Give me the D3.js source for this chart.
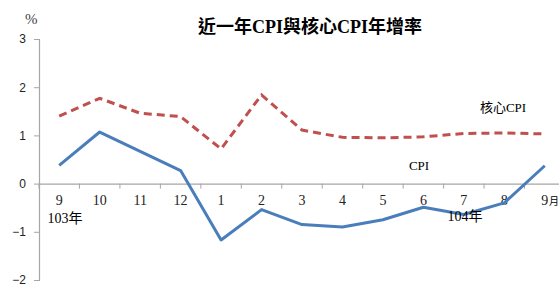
<!DOCTYPE html>
<html>
<head>
<meta charset="utf-8">
<script src="https://cdn.jsdelivr.net/npm/d3@7"></script>
<style>
  body { margin: 0; background: #fff; }
  svg { display: block; }
  .serif { font-family: "Liberation Serif", "Noto Sans CJK TC", serif; }
</style>
</head>
<body>
<svg id="chart"></svg>
<script>
// months along the x axis (103/9 .. 104/9)
let months = ['9', '10', '11', '12', '1', '2', '3', '4', '5', '6', '7', '8', '9'];
let cpi  = [0.38, 1.07, 0.67, 0.27, -1.17, -0.54, -0.85, -0.90, -0.75, -0.49, -0.64, -0.40, 0.37];
let core = [1.40, 1.77, 1.46, 1.39, 0.72, 1.84, 1.11, 0.96, 0.95, 0.97, 1.04, 1.05, 1.03];
let yTicks = [-2, -1, 0, 1, 2, 3];

let graphicopt = {
    width: 559,
    height: 287,
    margin: {top: 39, left: 39, right: -6, bottom: 6},
    widthG: function(){return this.width-this.margin.left-this.margin.right},
    heightG: function(){return this.height-this.margin.top-this.margin.bottom},
};

let svg = d3.select('#chart')
    .attr('width', graphicopt.width)
    .attr('height', graphicopt.height);

let g = svg.append('g')
    .attr('transform', `translate(${graphicopt.margin.left},${graphicopt.margin.top})`);

let keys = months.map((d, i) => i);
let x = d3.scaleBand().domain(keys).range([0, graphicopt.widthG()]);
let y = d3.scaleLinear().domain([-2, 3]).range([241, 0]);
let cx = i => x(i) + x.bandwidth() / 2;

// y axis
let yAxis = d3.axisLeft(y).tickValues(yTicks).tickFormat(d3.format('d')).tickSize(5).tickPadding(8);
let yg = g.append('g').call(yAxis);
yg.select('.domain').attr('stroke', '#a6a6a6').attr('stroke-width', 1.2);
yg.selectAll('.tick line').attr('stroke', '#a6a6a6');
yg.selectAll('.tick text')
    .style('font-family', '"Liberation Sans", Arial, sans-serif')
    .style('font-size', '12px')
    .attr('fill', '#222');

// x axis at zero
let xAxis = d3.axisBottom(x).tickSize(0).tickFormat(i => months[i]);
let xg = g.append('g')
    .attr('transform', `translate(0,${y(0)})`)
    .call(xAxis);
xg.select('.domain').attr('stroke', '#a6a6a6').attr('stroke-width', 1.2);
xg.selectAll('.tick text')
    .attr('class', 'serif')
    .attr('dy', '0')
    .attr('y', 21)
    .style('font-size', '14px')
    .attr('fill', '#222');
// tick marks between categories
xg.selectAll('.sep')
    .data(d3.range(months.length + 1))
    .enter().append('line')
    .attr('x1', i => i * x.step()).attr('x2', i => i * x.step())
    .attr('y1', 0).attr('y2', 5)
    .attr('stroke', '#a6a6a6');

// lines
let line = d3.line().x((d, i) => cx(i)).y(d => y(d));

g.append('path')
    .datum(core)
    .attr('d', line)
    .attr('fill', 'none')
    .attr('stroke', '#c0504d')
    .attr('stroke-width', 3)
    .attr('stroke-dasharray', '8,5');

g.append('path')
    .datum(cpi)
    .attr('d', line)
    .attr('fill', 'none')
    .attr('stroke', '#4a7ebb')
    .attr('stroke-width', 3)
    .attr('stroke-linejoin', 'round');

// texts
svg.append('text')
    .attr('class', 'serif')
    .attr('x', 310).attr('y', 33)
    .attr('text-anchor', 'middle')
    .style('font-size', '18px')
    .style('font-weight', 'bold')
    .text('近一年CPI與核心CPI年增率');

svg.append('text')
    .attr('class', 'serif')
    .attr('x', 25).attr('y', 24)
    .style('font-size', '15px')
    .attr('fill', '#444')
    .text('%');

svg.append('text')
    .attr('class', 'serif')
    .attr('x', 65).attr('y', 223)
    .attr('text-anchor', 'middle')
    .style('font-size', '14px')
    .text('103年');

svg.append('text')
    .attr('class', 'serif')
    .attr('x', 465).attr('y', 221)
    .attr('text-anchor', 'middle')
    .style('font-size', '14px')
    .text('104年');

svg.append('text')
    .attr('class', 'serif')
    .attr('x', 549).attr('y', 205)
    .style('font-size', '10px')
    .text('月');

svg.append('text')
    .attr('class', 'serif')
    .attr('x', 503).attr('y', 112)
    .attr('text-anchor', 'middle')
    .style('font-size', '13px')
    .text('核心CPI');

svg.append('text')
    .attr('class', 'serif')
    .attr('x', 419).attr('y', 170)
    .attr('text-anchor', 'middle')
    .style('font-size', '13px')
    .text('CPI');
</script>
</body>
</html>
